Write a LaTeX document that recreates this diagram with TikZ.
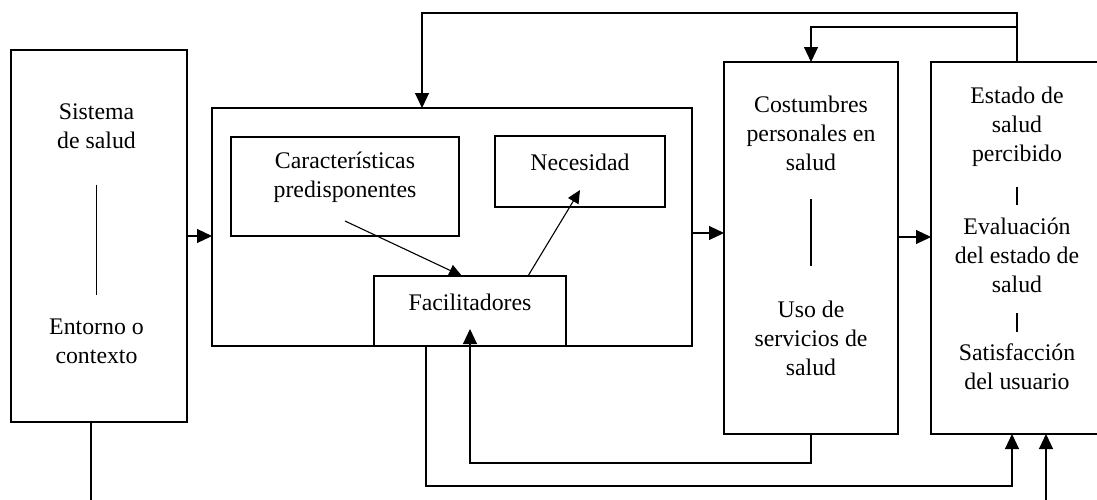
\documentclass[tikz,border=0pt]{standalone}
\usepackage{fontspec}
\setmainfont{Liberation Serif}
\usetikzlibrary{arrows.meta}
\tikzset{
  bigbox/.style={draw, line width=2.4pt, inner sep=0pt, outer sep=0pt},
  smallbox/.style={draw, line width=1.5pt, inner sep=0pt, outer sep=0pt},
  txt/.style={anchor=north, inner sep=0pt, align=center, font=\fontsize{23.8}{29.3}\selectfont},
  conn/.style={line width=1.1pt},
  arr/.style={conn, -{Triangle[length=15pt,width=14pt]}},
  sarr/.style={conn, -{Triangle[length=13pt,width=12pt]}},
}
\newcommand\Ls[1]{\strut #1}
\begin{document}
\begin{tikzpicture}[x=1pt,y=-1pt]
\clip (0,0) rectangle (1097,499);
\fill[white] (0,0) rectangle (1097,499);
% boxes
\node[bigbox, minimum width=176pt, minimum height=372pt] (A) at (99,236) {};
\node[bigbox, minimum width=480pt, minimum height=238pt] (B) at (452,227) {};
\node[smallbox, minimum width=228pt, minimum height=99pt] (Char) at (345,186.5) {};
\node[smallbox, minimum width=170pt, minimum height=71pt] (Nec) at (580,171.5) {};
\node[smallbox, minimum width=192pt, minimum height=70pt] (Fac) at (470,311) {};
\node[bigbox, minimum width=174pt, minimum height=372pt] (C) at (811,248) {};
\node[bigbox, minimum width=172pt, minimum height=372pt] (E) at (1017,248) {};
% texts
\node[txt] (At) at (96.5,98.5) {\Ls{Sistema}\\\Ls{de salud}};
\node[txt] (Ab) at (96.5,313.5) {\Ls{Entorno o}\\\Ls{contexto}};
\node[txt] (Chart) at (345,147.5) {\Ls{Características}\\\Ls{predisponentes}};
\node[txt] (Nect) at (580,149.5) {\Ls{Necesidad}};
\node[txt] (Fact) at (470,289.5) {\Ls{Facilitadores}};
\node[txt] (Ct) at (811,91.5) {\Ls{Costumbres}\\\Ls{personales en}\\\Ls{salud}};
\node[txt] (Cb) at (811,296.5) {\Ls{Uso de}\\\Ls{servicios de}\\\Ls{salud}};
\node[txt] (E1) at (1017,82.5) {\Ls{Estado de}\\\Ls{salud}\\\Ls{percibido}};
\node[txt] (E2) at (1017,213.5) {\Ls{Evaluación}\\\Ls{del estado de}\\\Ls{salud}};
\node[txt] (E3) at (1017,339.5) {\Ls{Satisfacción}\\\Ls{del usuario}};
% inner separators
\draw[conn] ([yshift=-27pt]At.south) -- ([yshift=18.5pt]Ab.north);
\draw[conn] ([yshift=-19.6pt]Ct.south) -- ([yshift=30.5pt]Cb.north);
\draw[conn] ([yshift=-16.6pt]E1.south) -- ([yshift=8.5pt]E2.north);
\draw[conn] ([yshift=-11.6pt]E2.south) -- ([yshift=7.5pt]E3.north);
% main flow
\draw[arr] (A.east) -- (A.east -| B.west);
\draw[arr] ([yshift=-6pt]B.east) -- ([yshift=-6pt]B.east -| C.west);
\draw[arr] ([yshift=11pt]C.east) -- ([yshift=11pt]C.east -| E.west);
% inner arrows
\draw[sarr] ([yshift=15pt]Char.south) -- ([xshift=-8pt]Fac.north);
\draw[sarr] ([xshift=58pt]Fac.north) -- ([yshift=17pt]Nec.south);
% feedback top
\coordinate (t1) at (1017,13);
\coordinate (t2) at (1017,27);
\draw[arr] (E.north) -- (t1) -| ([xshift=-30pt]B.north);
\draw[arr] (t2) -| (C.north);
% feedback bottom
\draw[arr] ([xshift=-26pt]B.south) -- ++(0,140) -| ([xshift=-5pt]E.south);
\draw[arr] (C.south) -- ++(0,29) -| ([yshift=17pt]Fac.south);
\coordinate (ab) at (91,505);
\coordinate (eb) at (1046,505);
\draw[conn] ([xshift=-8pt]A.south) -- (ab);
\draw[arr] (eb) -- ([xshift=29pt]E.south);
\end{tikzpicture}
\end{document}
